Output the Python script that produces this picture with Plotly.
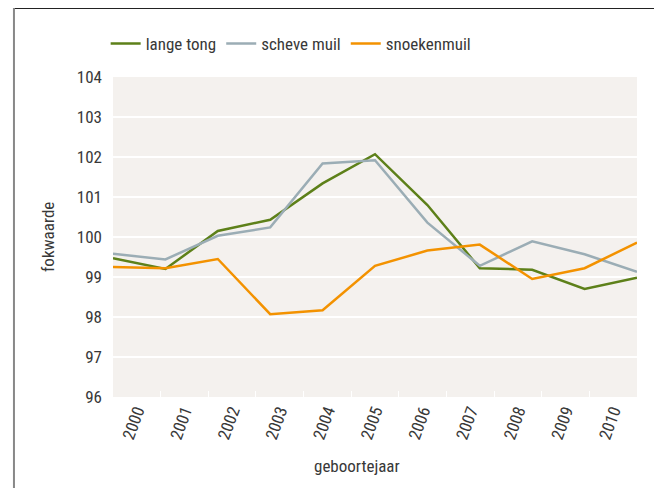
import plotly.graph_objects as go

years = [2000, 2001, 2002, 2003, 2004, 2005, 2006, 2007, 2008, 2009, 2010]
lange_tong = [99.47, 99.2, 100.15, 100.43, 101.34, 102.07, 100.8, 99.22, 99.18, 98.7, 98.98]
scheve_muil = [99.58, 99.44, 100.03, 100.24, 101.84, 101.92, 100.36, 99.28, 99.89, 99.57, 99.13]
snoekenmuil = [99.25, 99.22, 99.45, 98.07, 98.17, 99.28, 99.66, 99.81, 98.95, 99.22, 99.86]
tick_labels = [str(y) for y in years]

FONT = "Roboto Condensed, DejaVu Sans Condensed, Liberation Sans Narrow, Roboto, sans-serif"
TXT = "#383838"

n = len(years)
span = years[-1] - years[0]
label_pos = [years[0] + (i + 0.5) * span / n for i in range(n)]
bin_edges = [years[0] + i * span / n for i in range(1, n)]

fig = go.Figure()
for name, vals, col in [("lange tong", lange_tong, "#5d8019"),
                        ("scheve muil", scheve_muil, "#9badb5"),
                        ("snoekenmuil", snoekenmuil, "#f39200")]:
    fig.add_trace(go.Scatter(x=years, y=vals, name=name, mode="lines",
                             line=dict(color=col, width=2.5)))

fig.update_layout(
    width=662, height=488,
    margin=dict(l=105, r=33, t=69, b=99),
    paper_bgcolor="white", plot_bgcolor="#f4f1ee",
    font=dict(family=FONT, color=TXT, size=17),
    showlegend=True,
    legend=dict(orientation="h", x=-0.014, xanchor="left", y=1.103, yanchor="middle",
                font=dict(size=17, family=FONT, color=TXT), bgcolor="rgba(0,0,0,0)",
                itemwidth=30),
    xaxis=dict(range=[years[0], years[-1]], tickmode="array", tickvals=label_pos,
               ticktext=tick_labels, tickangle=-70, showgrid=False, zeroline=False,
               ticks="", showline=False, tickfont=dict(size=17),
               minor=dict(tickmode="array", tickvals=bin_edges, ticks="inside",
                          ticklen=6, tickcolor="white", tickwidth=1, showgrid=False)),
    yaxis=dict(range=[96, 104], dtick=1, showgrid=True, gridcolor="white", gridwidth=2,
               zeroline=False, showline=False, ticks="", tickfont=dict(size=17),
               ticklabelstandoff=10),
    annotations=[
        dict(text="fokwaarde", xref="paper", yref="paper", x=-0.124, y=0.5,
             xanchor="center", yanchor="middle",
             textangle=-90, showarrow=False, font=dict(size=17)),
        dict(text="geboortejaar", xref="paper", yref="paper", x=0.466, y=-0.216,
             xanchor="center", yanchor="middle", showarrow=False, font=dict(size=17)),
    ],
    shapes=[
        dict(type="line", xref="paper", yref="paper", x0=-0.189, x1=1.1, y0=1.2156, y1=1.2156,
             line=dict(color="#222222", width=2)),
        dict(type="line", xref="paper", yref="paper", x0=-0.189, x1=-0.189, y0=-0.4, y1=1.2156,
             line=dict(color="#888888", width=2)),
    ],
)

fig.write_html("out.html")
